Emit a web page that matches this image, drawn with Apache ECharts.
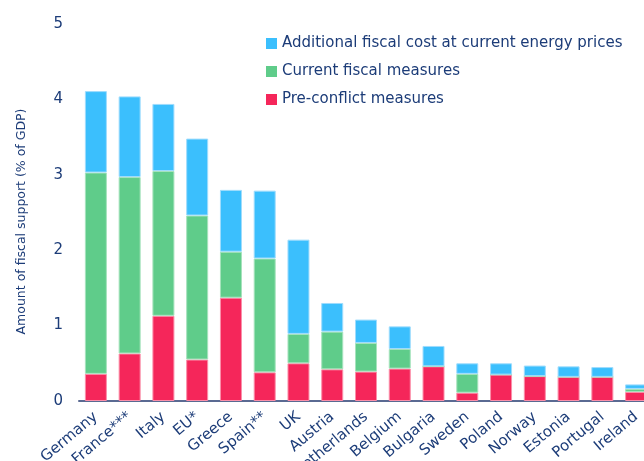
<!DOCTYPE html>
<html><head><meta charset="utf-8">
<script src="https://cdn.jsdelivr.net/npm/echarts@6/dist/echarts.min.js"></script>
<style>html,body{margin:0;padding:0;background:#fff;overflow:hidden}#c{width:644px;height:461px}</style>
</head><body><div id="c"></div>
<script>
const categories = ["Germany","France***","Italy","EU*","Greece","Spain**","UK","Austria","Netherlands","Belgium","Bulgaria","Sweden","Poland","Norway","Estonia","Portugal","Ireland"];
const preConflict = [0.36,0.63,1.13,0.55,1.37,0.38,0.50,0.42,0.39,0.43,0.46,0.11,0.35,0.33,0.32,0.32,0.12];
const currentFiscal = [2.67,2.34,1.92,1.91,0.61,1.51,0.39,0.50,0.38,0.26,0,0.25,0,0,0,0,0.04];
const additionalCost = [1.08,1.07,0.89,1.02,0.82,0.90,1.25,0.38,0.31,0.30,0.27,0.14,0.15,0.14,0.14,0.13,0.06];
const yTicks = [0,1,2,3,4,5];

const textColor = '#1c3c78';
const fontFamily = '"DejaVu Sans", sans-serif';
const chart = echarts.init(document.getElementById('c'));
function bar(name, data, color, border) {
  return {name, type:'bar', stack:'s', data, barWidth:22,
    itemStyle:{color, borderColor:border, borderWidth:1}, emphasis:{disabled:true}};
}
chart.setOption({
  animation:false,
  textStyle:{fontFamily},
  grid:{left:79, right:-9, top:24, bottom:60, containLabel:false, outerBoundsMode:'none'},
  legend:{
    data:['Additional fiscal cost at current energy prices','Current fiscal measures','Pre-conflict measures'],
    orient:'vertical', left:261, top:31, itemWidth:11, itemHeight:11, itemGap:13, icon:'rect',
    itemStyle:{borderWidth:0},
    textStyle:{color:textColor, fontSize:15, fontFamily}
  },
  xAxis:{type:'category', data:categories,
    axisLine:{lineStyle:{color:'#5a6a92', width:2}}, axisTick:{show:false},
    axisLabel:{color:textColor, fontSize:15, rotate:40, interval:0, margin:14}},
  yAxis:{type:'value', min:yTicks[0], max:yTicks[yTicks.length-1], interval:1,
    name:'Amount of fiscal support (% of GDP)', nameLocation:'middle', nameGap:51,
    nameTextStyle:{color:textColor, fontSize:12.5, padding:[0,18,0,0]},
    splitLine:{show:false}, axisLine:{show:false}, axisTick:{show:false},
    axisLabel:{color:textColor, fontSize:15, margin:16}},
  series:[
    bar('Pre-conflict measures', preConflict, '#f5265a', '#fb8fa9'),
    bar('Current fiscal measures', currentFiscal, '#5fcc8a', '#a6e3bd'),
    bar('Additional fiscal cost at current energy prices', additionalCost, '#3bbffd', '#9fdcfd')
  ]
});
</script></body></html>
